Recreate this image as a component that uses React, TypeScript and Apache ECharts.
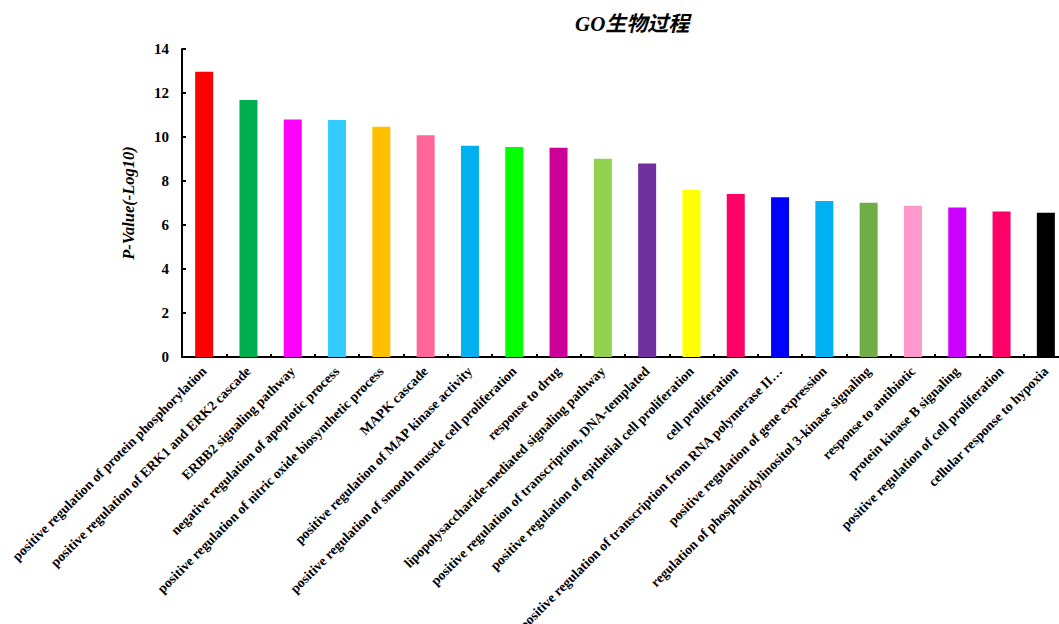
import React, { useEffect, useRef } from "react";
import * as echarts from "echarts";

const categories = [
  "positive regulation of protein phosphorylation",
  "positive regulation of ERK1 and ERK2 cascade",
  "ERBB2 signaling pathway",
  "negative regulation of apoptotic process",
  "positive regulation of nitric oxide biosynthetic process",
  "MAPK cascade",
  "positive regulation of MAP kinase activity",
  "positive regulation of smooth muscle cell proliferation",
  "response to drug",
  "lipopolysaccharide-mediated signaling pathway",
  "positive regulation of transcription, DNA-templated",
  "positive regulation of epithelial cell proliferation",
  "cell proliferation",
  "positive regulation of transcription from RNA polymerase II…",
  "positive regulation of gene expression",
  "regulation of phosphatidylinositol 3-kinase signaling",
  "response to antibiotic",
  "protein kinase B signaling",
  "positive regulation of cell proliferation",
  "cellular response to hypoxia",
];

const values = [
  12.97, 11.68, 10.8, 10.77, 10.47, 10.08, 9.6, 9.55, 9.51, 9.01, 8.8, 7.59,
  7.41, 7.26, 7.09, 7.01, 6.88, 6.8, 6.61, 6.56,
];

const colors = [
  "#FF0000", "#00B050", "#FF00FF", "#33CCFF", "#FFC000", "#FF6699", "#00B0F0",
  "#00FF00", "#CC0099", "#92D050", "#7030A0", "#FFFF00", "#FF0066", "#0000FF",
  "#00B0F0", "#70AD47", "#FF99CC", "#CC00FF", "#FF0066", "#000000",
];

const yTicks = { min: 0, max: 14, interval: 2 };

const FONT = "'Liberation Serif', 'Times New Roman', 'Noto Sans CJK SC', serif";

export default function App() {
  const ref = useRef<HTMLDivElement>(null);
  useEffect(() => {
    if (!ref.current) return;
    const chart = echarts.init(ref.current, undefined, { renderer: "svg" });
    chart.setOption({
      animation: false,
      backgroundColor: "#ffffff",
      title: {
        text: "GO生物过程",
        left: 570,
        top: 8,
        textStyle: {
          fontFamily: FONT,
          fontSize: 21,
          fontWeight: "bold",
          fontStyle: "italic",
          color: "#000",
        },
      },
      grid: {
        left: 182,
        top: 49,
        width: 886,
        height: 308,
        containLabel: false,
        outerBoundsMode: "none",
      },
      xAxis: {
        type: "category",
        data: categories,
        axisLine: { lineStyle: { color: "#000", width: 2 } },
        axisTick: { show: true, inside: true, length: 3, lineStyle: { color: "#000", width: 2 } },
        axisLabel: {
          interval: 0,
          rotate: 45,
          margin: 12,
          fontFamily: FONT,
          fontSize: 13.7,
          fontWeight: "bold",
          color: "#000",
        },
      },
      yAxis: {
        type: "value",
        min: yTicks.min,
        max: yTicks.max,
        interval: yTicks.interval,
        name: "P-Value(-Log10)",
        nameLocation: "middle",
        nameGap: 45,
        nameTextStyle: {
          fontFamily: FONT,
          fontSize: 16.5,
          fontWeight: "bold",
          fontStyle: "italic",
          color: "#000",
        },
        splitLine: { show: false },
        axisLine: { show: true, lineStyle: { color: "#000", width: 2 } },
        axisTick: { show: true, inside: true, length: 4, lineStyle: { color: "#000", width: 2 } },
        axisLabel: {
          margin: 13,
          fontFamily: FONT,
          fontSize: 15,
          fontWeight: "bold",
          color: "#000",
        },
      },
      series: [
        {
          type: "bar",
          barWidth: 18,
          data: values.map((v, i) => ({ value: v, itemStyle: { color: colors[i] } })),
        },
      ],
    });
    return () => chart.dispose();
  }, []);
  return (
    <div
      ref={ref}
      style={{ position: "fixed", left: 0, top: 0, width: 1059, height: 624 }}
    />
  );
}
